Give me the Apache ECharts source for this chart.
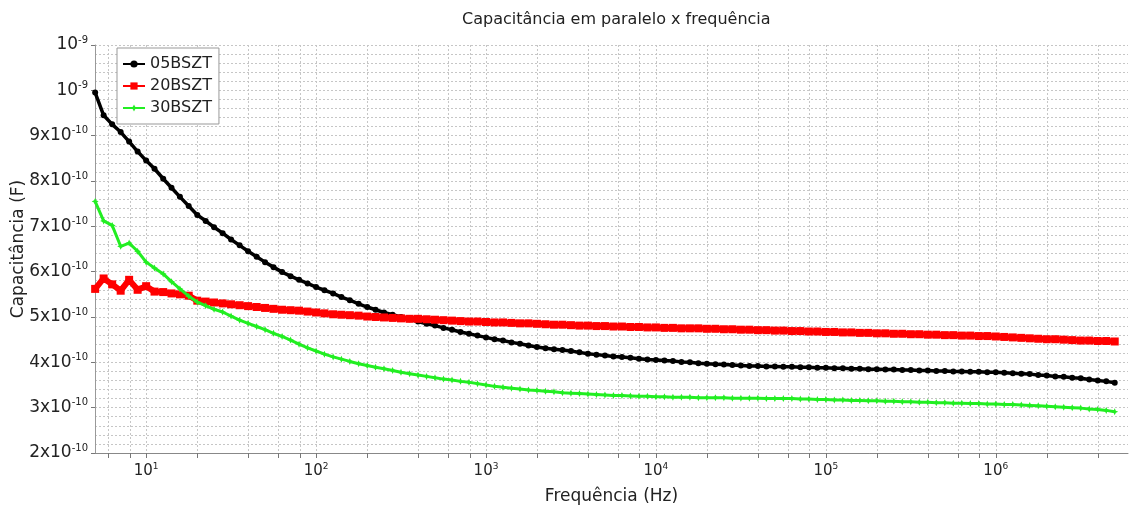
<!DOCTYPE html>
<html><head><meta charset="utf-8">
<script src="https://cdn.jsdelivr.net/npm/echarts@6/dist/echarts.min.js"></script>
<style>html,body{margin:0;padding:0;background:#fff}#c{width:1129px;height:512px}</style>
</head><body><div id="c"></div>
<script>
// Frequency (Hz)
const freqHz = [5.01,5.62,6.31,7.08,7.94,8.91,
10,11.2,12.6,14.1,15.8,17.8,20,22.4,25.1,28.2,31.6,35.5,39.8,44.7,50.1,56.2,63.1,70.8,79.4,89.1,
100,112,126,141,158,178,200,224,251,282,316,355,398,447,501,562,631,708,794,891,
1000,1122,1259,1413,1585,1778,1995,2239,2512,2818,3162,3548,3981,4467,5012,5623,6310,7079,7943,8913,
10000,11220,12590,14130,15850,17780,19950,22390,25120,28180,31620,35480,39810,44670,50120,56230,63100,70790,79430,89130,
100000,112200,125900,141300,158500,177800,199500,223900,251200,281800,316200,354800,398100,446700,501200,562300,631000,707900,794300,891300,
1000000,1122000,1259000,1413000,1585000,1778000,1995000,2239000,2512000,2818000,3162000,3548000,3981000,4467000,5012000];

// Capacitance in units of 1e-10 F
const c05BSZT = [9.95,9.45,9.25,9.08,8.87,8.65,8.45,8.27,8.05,7.85,
7.65,7.45,7.25,7.12,6.98,6.85,6.71,6.58,6.45,6.33,
6.21,6.10,5.99,5.90,5.82,5.74,5.66,5.59,5.52,5.44,
5.37,5.29,5.22,5.16,5.10,5.05,5.00,4.95,4.90,4.85,
4.81,4.76,4.72,4.67,4.63,4.59,4.55,4.51,4.48,4.44,
4.41,4.37,4.34,4.31,4.29,4.27,4.25,4.22,4.19,4.17,
4.15,4.13,4.12,4.10,4.08,4.06,4.05,4.04,4.03,4.01,
4.00,3.98,3.97,3.96,3.95,3.94,3.93,3.92,3.92,3.91,
3.91,3.90,3.90,3.89,3.89,3.88,3.88,3.87,3.87,3.86,
3.86,3.85,3.85,3.84,3.84,3.83,3.83,3.82,3.82,3.81,
3.81,3.80,3.80,3.79,3.79,3.78,3.78,3.77,3.76,3.75,
3.74,3.72,3.71,3.69,3.68,3.66,3.65,3.62,3.60,3.58,3.55];

const c20BSZT = [5.62,5.85,5.72,5.58,5.82,5.60,5.68,5.56,5.55,5.52,
5.50,5.47,5.36,5.34,5.32,5.30,5.28,5.26,5.24,5.22,
5.20,5.18,5.16,5.15,5.14,5.12,5.10,5.08,5.06,5.05,
5.04,5.03,5.01,5.00,4.99,4.98,4.97,4.96,4.96,4.95,
4.94,4.93,4.92,4.91,4.90,4.90,4.89,4.88,4.88,4.87,
4.86,4.86,4.85,4.84,4.83,4.83,4.82,4.81,4.81,4.80,
4.80,4.79,4.79,4.78,4.78,4.77,4.77,4.76,4.76,4.75,
4.75,4.75,4.74,4.74,4.73,4.73,4.72,4.72,4.71,4.71,
4.70,4.70,4.69,4.69,4.68,4.68,4.67,4.67,4.66,4.66,
4.65,4.65,4.64,4.64,4.63,4.63,4.62,4.62,4.61,4.61,
4.60,4.60,4.59,4.59,4.58,4.58,4.57,4.56,4.55,4.54,
4.53,4.52,4.51,4.51,4.50,4.49,4.48,4.48,4.47,4.47,4.46];

const c30BSZT = [7.55,7.12,7.02,6.56,6.63,6.45,6.21,6.08,5.95,5.78,
5.62,5.46,5.33,5.25,5.17,5.11,5.02,4.93,4.86,4.79,
4.72,4.64,4.57,4.49,4.40,4.32,4.25,4.18,4.12,4.07,
4.02,3.97,3.93,3.89,3.86,3.82,3.78,3.75,3.72,3.69,
3.66,3.63,3.61,3.58,3.56,3.53,3.50,3.47,3.45,3.43,
3.41,3.39,3.38,3.36,3.35,3.33,3.32,3.31,3.30,3.29,
3.28,3.27,3.27,3.26,3.25,3.25,3.24,3.24,3.23,3.23,
3.23,3.22,3.22,3.22,3.22,3.21,3.21,3.21,3.21,3.20,
3.20,3.20,3.20,3.19,3.19,3.18,3.18,3.17,3.17,3.16,
3.16,3.15,3.15,3.14,3.14,3.13,3.13,3.12,3.12,3.11,
3.11,3.10,3.10,3.09,3.09,3.08,3.08,3.07,3.07,3.06,
3.05,3.04,3.03,3.02,3.01,3.00,2.99,2.97,2.96,2.94,2.91];

const seriesNames = ['05BSZT','20BSZT','30BSZT'];

// Y tick labels (value in 1e-10 F)
const yTickValues = [2,3,4,5,6,7,8,9,10,11];
const yTickBase = ['2x10','3x10','4x10','5x10','6x10','7x10','8x10','9x10','10','10'];
const yTickExp  = ['-10','-10','-10','-10','-10','-10','-10','-10','-9','-9'];

// X ticks
const xDecades = [10,100,1000,10000,100000,1000000];
const xDecadeExp = ['1','2','3','4','5','6'];
const xMinorGrid = [6,8,20,40,60,80,200,400,600,800,2000,4000,6000,8000,
20000,40000,60000,80000,200000,400000,600000,800000,2000000,4000000];

const FONT = 'DejaVu Sans';
const GRID_COLOR = '#c6c6c6';
const chart = echarts.init(document.getElementById('c'), null, {renderer:'canvas'});

function pairs(ys){ return freqHz.map((f,i)=>[f, ys[i]]); }

const yMin = 2, yMax = 11;
const gridData = xDecades.concat(xMinorGrid).map(f => [f, yMin]);

chart.setOption({
  animation:false,
  backgroundColor:'#fff',
  title:{text:'Capacitância em paralelo x frequência', left:457, top:7,
    textStyle:{fontFamily:FONT, fontSize:16, fontWeight:'normal', color:'#222'}},
  legend:{data:seriesNames, orient:'vertical', left:117, top:48,
    padding:[8,7,8,5], itemGap:6, itemWidth:22, itemHeight:9,
    borderColor:'#999', borderWidth:1, backgroundColor:'#fff',
    textStyle:{fontFamily:FONT, fontSize:16, color:'#222'}},
  grid:{left:95, right:1, top:45, bottom:59, containLabel:false, outerBoundsMode:'none'},
  xAxis:{type:'log', logBase:10, min:5, max:6000000,
    name:'Frequência (Hz)', nameLocation:'middle', nameGap:35, nameMoveOverlap:false,
    nameTextStyle:{fontFamily:FONT, fontSize:17, color:'#222'},
    axisLine:{show:true, lineStyle:{color:'#888'}},
    axisTick:{show:false}, splitLine:{show:false}, minorTick:{show:false},
    axisLabel:{margin:9, formatter:function(v){
      const i = xDecades.findIndex(d => Math.abs(d - v)/d < 1e-6);
      return i < 0 ? '' : '{b|10}{s|' + xDecadeExp[i] + '}';
    }, rich:{b:{fontFamily:FONT, fontSize:15, color:'#222', lineHeight:18},
             s:{fontFamily:FONT, fontSize:9, color:'#222', lineHeight:10, verticalAlign:'top'}}}
  },
  yAxis:{type:'value', min:yMin, max:yMax, interval:1,
    name:'Capacitância (F)', nameLocation:'middle', nameGap:68, nameMoveOverlap:false,
    nameTextStyle:{fontFamily:FONT, fontSize:17, color:'#222'},
    axisLine:{show:true, lineStyle:{color:'#999'}},
    axisTick:{show:true, length:4, lineStyle:{color:'#777'}},
    splitLine:{show:true, lineStyle:{color:GRID_COLOR, type:[2,2]}},
    minorTick:{show:false, splitNumber:5},
    minorSplitLine:{show:true, lineStyle:{color:GRID_COLOR, type:[2,2]}},
    axisLabel:{margin:7, formatter:function(v){
      const i = yTickValues.indexOf(Math.round(v));
      return '{b|' + yTickBase[i] + '}{s|' + yTickExp[i] + '}';
    }, rich:{b:{fontFamily:FONT, fontSize:17, color:'#222', lineHeight:20},
             s:{fontFamily:FONT, fontSize:10, color:'#222', lineHeight:11, verticalAlign:'top'}}}
  },
  series:[
    {type:'custom', name:'grid', silent:true, z:1, clip:false,
     data:gridData,
     renderItem:function(params, api){
       const f = api.value(0);
       const top = api.coord([f, yMax]);
       const bot = api.coord([f, yMin]);
       const x = Math.round(top[0]) + 0.5;
       return {type:'group', children:[
         {type:'line', shape:{x1:x, y1:top[1], x2:x, y2:bot[1]},
          style:{stroke:GRID_COLOR, lineWidth:1, lineDash:[2,2]}},
         {type:'line', shape:{x1:x, y1:bot[1], x2:x, y2:bot[1]+5},
          style:{stroke:'#777', lineWidth:1}}
       ]};
     }},
    {name:'05BSZT', type:'line', data:pairs(c05BSZT), z:3,
     symbol:'circle', symbolSize:6, showSymbol:true,
     lineStyle:{color:'#000', width:3.5}, itemStyle:{color:'#000'}},
    {name:'20BSZT', type:'line', data:pairs(c20BSZT), z:4,
     symbol:'rect', symbolSize:8, showSymbol:true,
     lineStyle:{color:'#ff0000', width:6}, itemStyle:{color:'#ff0000'}},
    {name:'30BSZT', type:'line', data:pairs(c30BSZT), z:5,
     symbol:'path://M0,-5L1.6,-1.6L5,0L1.6,1.6L0,5L-1.6,1.6L-5,0L-1.6,-1.6Z', symbolSize:7, showSymbol:true,
     lineStyle:{color:'#22ee22', width:3}, itemStyle:{color:'#22ee22'}}
  ]
});
</script></body></html>
